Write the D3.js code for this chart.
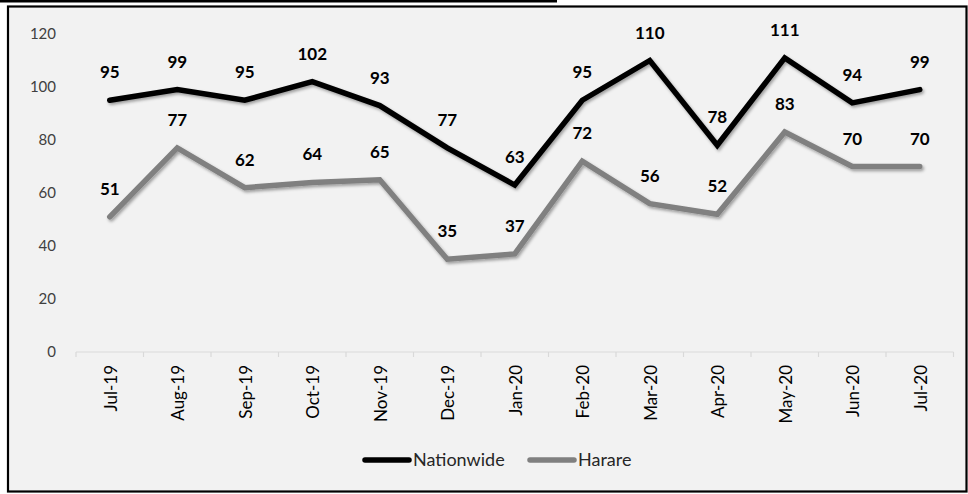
<!DOCTYPE html>
<html><head><meta charset="utf-8">
<script src="https://cdn.jsdelivr.net/npm/d3@7"></script>
<style>
html,body{margin:0;padding:0;background:#fff;}
svg{display:block;font-family:Lato,"Open Sans",sans-serif;}
</style></head>
<body>
<svg id="c" width="968" height="494"></svg>
<script>
const months = ["Jul-19","Aug-19","Sep-19","Oct-19","Nov-19","Dec-19","Jan-20","Feb-20","Mar-20","Apr-20","May-20","Jun-20","Jul-20"];
const nationwide = [95,99,95,102,93,77,63,95,110,78,111,94,99];
const harare = [51,77,62,64,65,35,37,72,56,52,83,70,70];
const yTicks = [0,20,40,60,80,100,120];
const seriesNames = ["Nationwide","Harare"];
const seriesColors = ["#000000","#808080"];

const svg = d3.select("#c");
const defs = svg.append("defs");
const f = defs.append("filter").attr("id","sh").attr("x","-10%").attr("y","-10%").attr("width","120%").attr("height","130%");
f.append("feDropShadow").attr("dx",1.5).attr("dy",2).attr("stdDeviation",1.6).attr("flood-color","#000").attr("flood-opacity",0.35);

// top rule
svg.append("rect").attr("x",0).attr("y",0).attr("width",557).attr("height",2.5).attr("fill","#000");
// chart box
svg.append("rect").attr("x",8).attr("y",6.5).attr("width",958.5).attr("height",485).attr("fill","#f2f2f2").attr("stroke","#000").attr("stroke-width",2.2);

const x = d3.scaleBand().domain(months).range([76,953.5]);
const y = d3.scaleLinear().domain([0,120]).range([352,34]);
const cx = d => x(d) + x.bandwidth()/2;

// y tick labels
svg.append("g").selectAll("text").data(yTicks).join("text")
  .attr("x",56).attr("y",d=>y(d)).attr("dy","0.35em").attr("text-anchor","end")
  .attr("font-size",15).attr("fill","#404040").text(d=>d);

// x axis
const xg = svg.append("g");
xg.append("line").attr("x1",76).attr("x2",953.5).attr("y1",352).attr("y2",352).attr("stroke","#d9d9d9").attr("stroke-width",1.2);
const tickPos = months.map(m=>x(m)).concat([953.5]);
xg.selectAll("line.t").data(tickPos).join("line").attr("class","t")
  .attr("x1",d=>d).attr("x2",d=>d).attr("y1",352).attr("y2",357).attr("stroke","#d9d9d9").attr("stroke-width",1.2);
xg.selectAll("text").data(months).join("text")
  .attr("transform",d=>`translate(${cx(d)+1},365) rotate(-90)`)
  .attr("dy","0.35em").attr("text-anchor","end").attr("font-size",17).attr("fill","#000").text(d=>d);

const line = d3.line().x((d,i)=>cx(months[i])).y(d=>y(d));
const data = [nationwide, harare];
[1,0].forEach(k=>{
  svg.append("path").datum(data[k]).attr("d",line).attr("fill","none")
    .attr("stroke",seriesColors[k]).attr("stroke-width",5.5).attr("stroke-linejoin","miter").attr("stroke-linecap","round")
    .attr("filter","url(#sh)");
});
[0,1].forEach(k=>{
  svg.append("g").selectAll("text").data(data[k]).join("text")
    .attr("x",(d,i)=>cx(months[i])).attr("y",d=>y(d)-22)
    .attr("text-anchor","middle").attr("font-size",17).attr("font-weight","bold").attr("fill","#000").text(d=>d);
});

// legend
const leg = [{x:363,name:seriesNames[0],c:seriesColors[0]},{x:528,name:seriesNames[1],c:seriesColors[1]}];
leg.forEach(l=>{
  svg.append("line").attr("x1",l.x+2).attr("x2",l.x+46).attr("y1",460).attr("y2",460)
    .attr("stroke",l.c).attr("stroke-width",5.5).attr("stroke-linecap","round");
  svg.append("text").attr("x",l.x+50).attr("y",466).attr("font-size",18).attr("fill","#262626").text(l.name);
});
</script>
</body></html>
